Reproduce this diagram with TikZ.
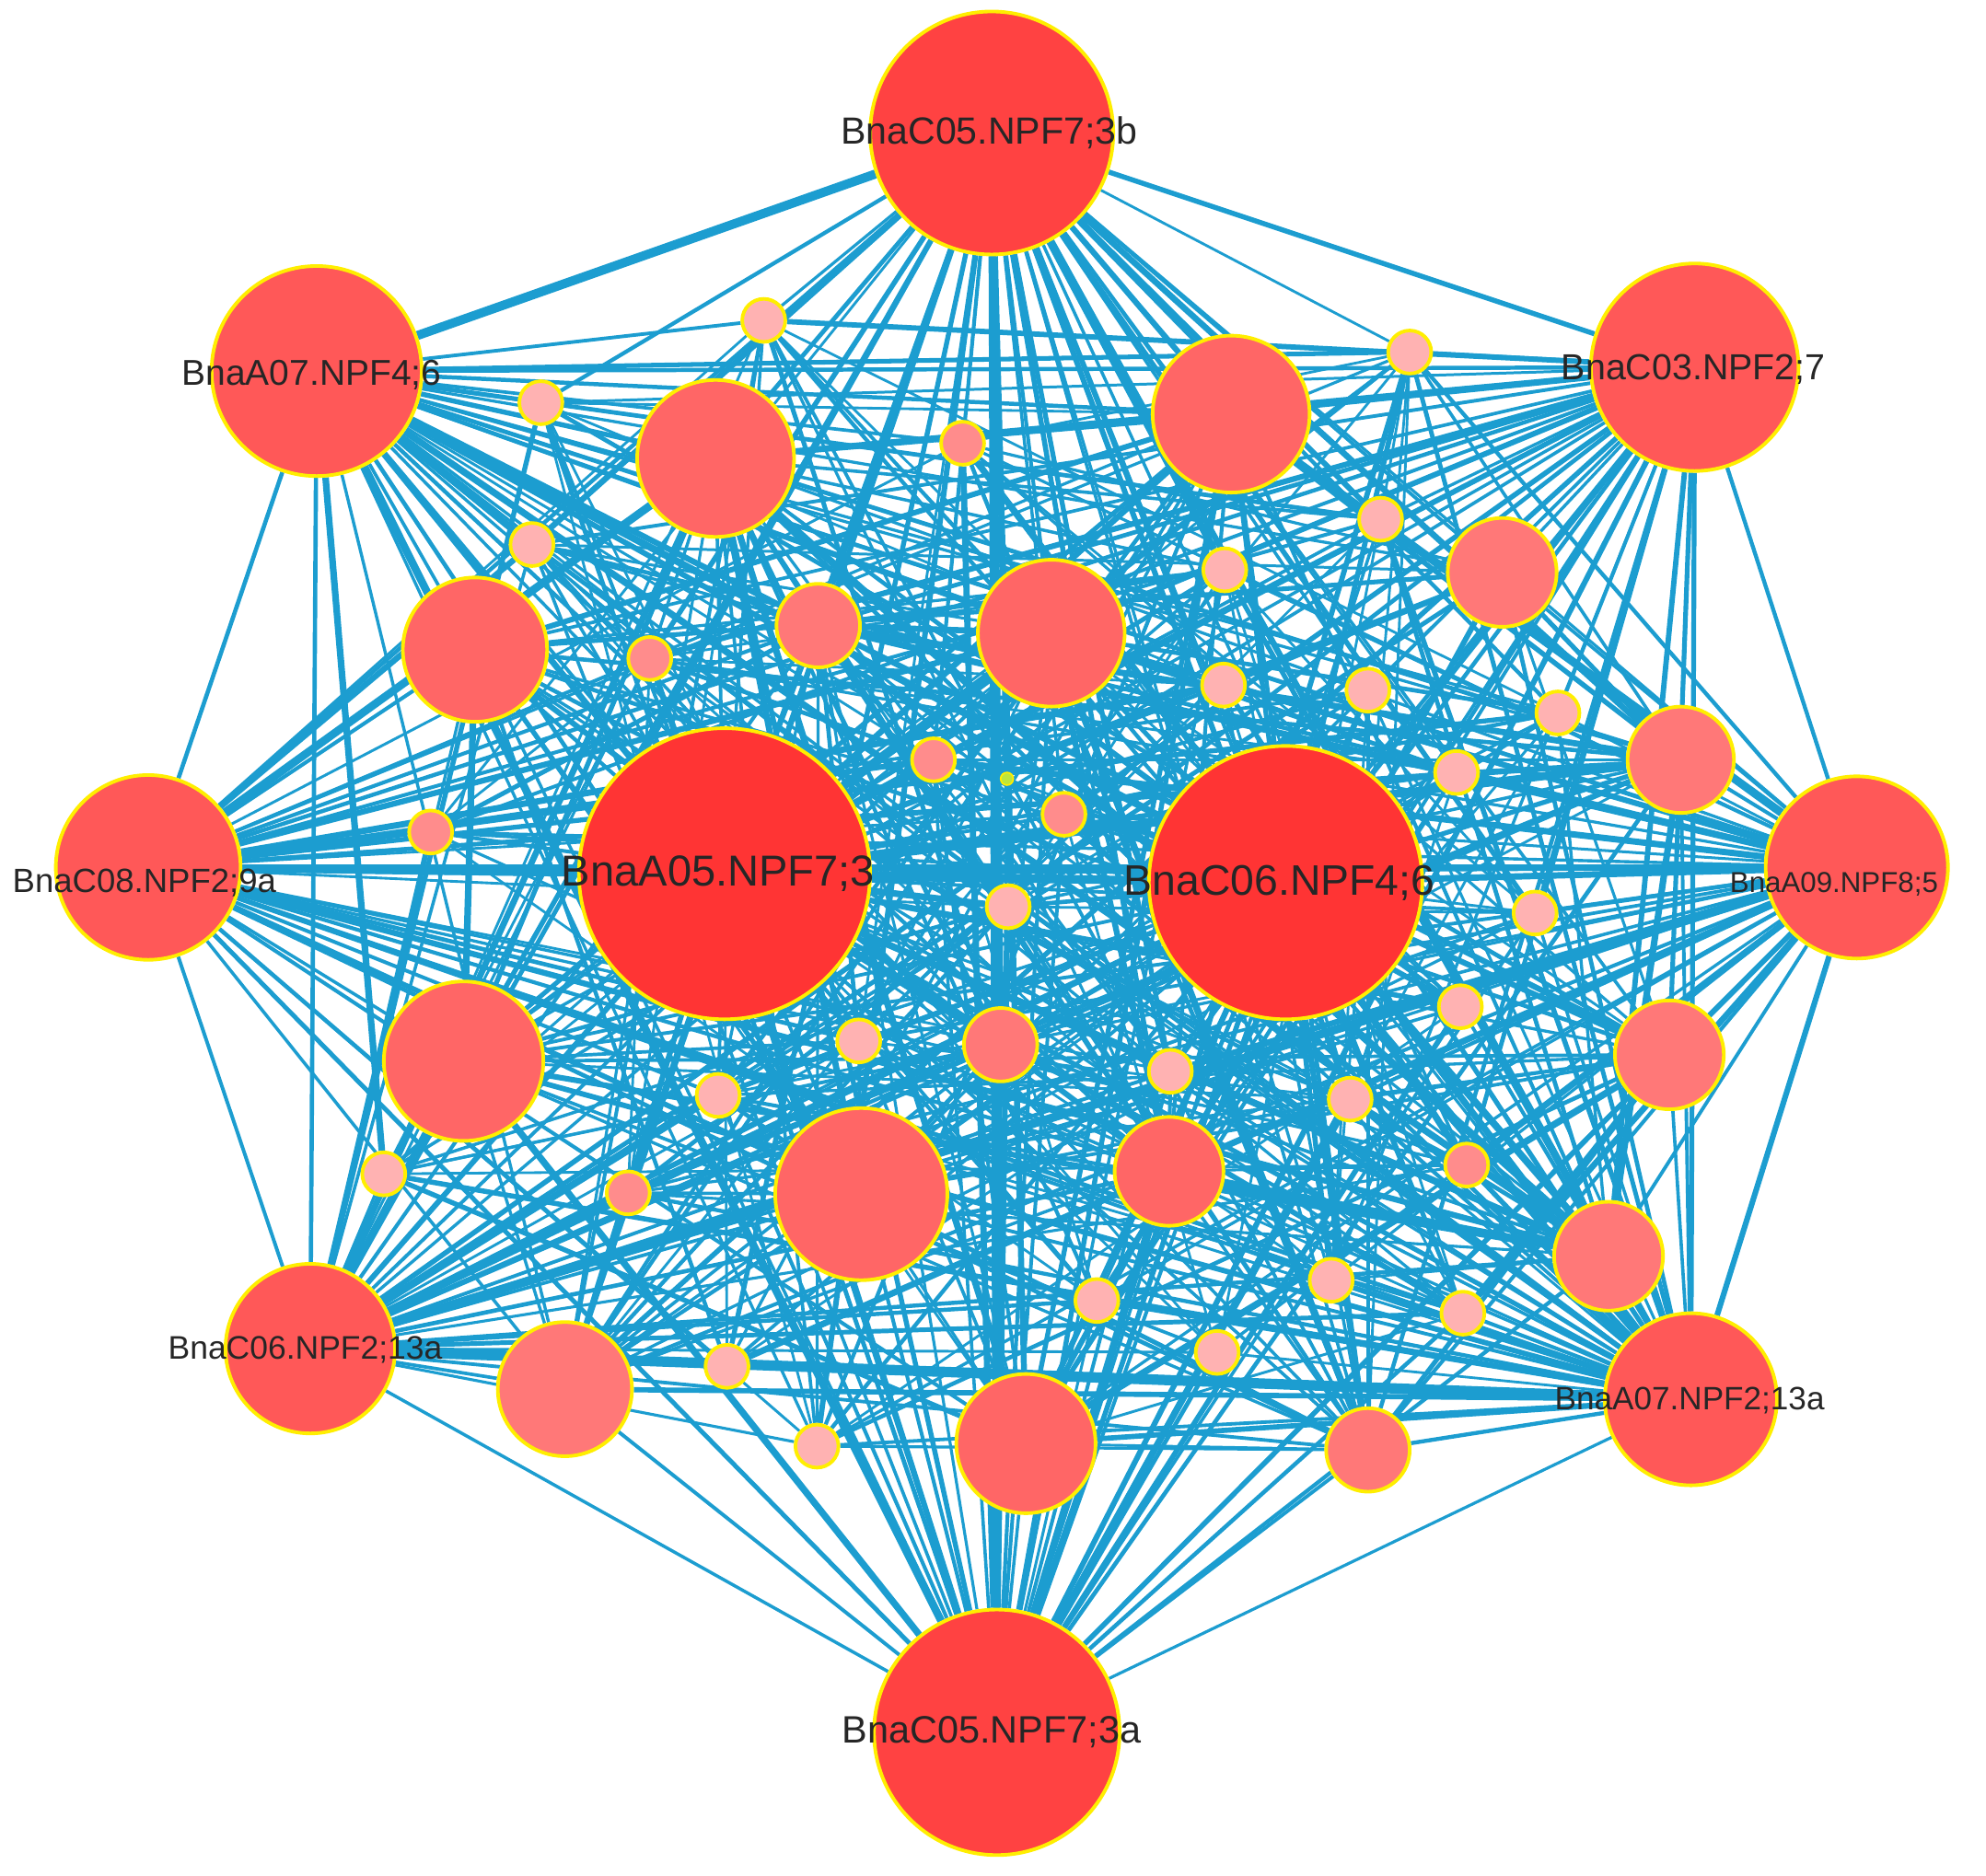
\documentclass[tikz,border=0pt]{standalone}
\usepackage{fontspec}
\setmainfont{Liberation Sans}
\usetikzlibrary{backgrounds}
\definecolor{edgec}{RGB}{28,157,208}
\definecolor{ybord}{RGB}{255,238,0}
\definecolor{cA}{RGB}{255,52,52}
\definecolor{cT}{RGB}{255,66,66}
\definecolor{cH}{RGB}{255,88,88}
\definecolor{cM}{RGB}{255,102,102}
\definecolor{cL}{RGB}{255,120,120}
\definecolor{cS}{RGB}{255,140,140}
\definecolor{cP}{RGB}{255,178,178}
\definecolor{cG}{RGB}{190,230,60}
\tikzset{
  nd/.style={circle, draw=ybord, line width=1.1pt, inner sep=0pt, minimum size=#1*0.027512cm},
  edge/.style={draw=edgec},
  lbl/.style={inner sep=0pt, text=black!85},
}
\begin{document}
\begin{tikzpicture}[x=0.013756cm, y=-0.013756cm]
\useasboundingbox (0,0) rectangle (1568,1481);
% hubs
\node[nd=96, fill=cT] (h1) at (783,105) {};
\node[nd=83, fill=cH] (h2) at (250,293) {};
\node[nd=82, fill=cH] (h3) at (1338,290) {};
\node[nd=73, fill=cH] (h4) at (117,685) {};
\node[nd=72, fill=cH] (h5) at (1466,685) {};
\node[nd=67, fill=cH] (h6) at (245,1065) {};
\node[nd=68, fill=cH] (h7) at (1335,1105) {};
\node[nd=97, fill=cT] (h8) at (787,1368) {};
\node[nd=115, fill=cA] (h9) at (572,690) {};
\node[nd=108, fill=cA] (h10) at (1015,697) {};
% medium nodes
\foreach \n/\x/\y/\r/\c in {
  1/565/362/62/cM, 2/972/327/62/cM, 3/375/513/57/cM, 4/830/500/58/cM,
  5/1186/452/43/cL, 6/646/494/33/cL, 7/1327/600/42/cL, 8/366/838/63/cM,
  9/1318/833/43/cL, 10/680/943/68/cM, 11/923/925/43/cM, 12/790/825/29/cL,
  13/1270/992/43/cL, 14/446/1097/53/cL, 15/810/1140/55/cM, 16/1080/1145/33/cL}
  \node[nd=\r, fill=\c] (m\n) at (\x,\y) {};
% small nodes
\foreach \n/\x/\y/\c in {
  1/603/253/cP, 2/1113/278/cP, 3/427/318/cP, 4/760/350/cS, 5/420/430/cP,
  6/1090/410/cP, 7/967/450/cP, 8/513/520/cS, 9/966/541/cP, 10/1080/545/cP,
  11/1230/563/cP, 12/737/600/cS, 13/1150/610/cP, 14/340/657/cS, 15/840/643/cS,
  16/796/716/cP, 17/1212/721/cP, 18/1153/795/cP, 19/678/822/cP, 20/567/865/cP,
  21/924/846/cP, 22/1066/868/cP, 23/303/927/cP, 24/496/942/cS, 25/1158/920/cS,
  26/866/1027/cP, 27/1051/1011/cP, 28/1155/1037/cP, 29/961/1068/cP, 30/574/1079/cP,
  31/645/1142/cP}
  \node[nd=17, fill=\c] (s\n) at (\x,\y) {};
\node[nd=5, fill=cG, line width=0.5pt] (t1) at (795,615) {};
% edges
\pgfmathsetseed{4242}
\begin{pgfonlayer}{background}
  % hub to hub
  \foreach \a in {1,...,10} {
    \foreach \b in {1,...,10} {
      \ifnum\a<\b
        \pgfmathsetmacro\w{0.9+1.2*rnd}
        \draw[edge, line width=\w pt] (h\a) -- (h\b);
      \fi
    }
  }
  \foreach \a/\b/\w in {h1/h2/2.8, h6/h7/3.2, h9/h10/2.6, h2/h10/2.2, h1/h8/2.2, h5/h6/2.6, h4/h10/2.2, h2/h8/2.4}
    \draw[edge, line width=\w pt] (\a) -- (\b);
  % hubs to other nodes
  \foreach \a in {1,...,10} {
    \foreach \b in {1,...,16} {
      \pgfmathsetmacro\p{rnd}
      \pgfmathsetmacro\w{0.9+2.0*rnd*rnd}
      \ifdim\p pt<0.88pt
        \draw[edge, line width=\w pt] (h\a) -- (m\b);
      \fi
    }
    \foreach \b in {1,...,31} {
      \pgfmathsetmacro\p{rnd}
      \pgfmathsetmacro\w{0.8+1.5*rnd*rnd}
      \ifdim\p pt<0.75pt
        \draw[edge, line width=\w pt] (h\a) -- (s\b);
      \fi
    }
  }
  % medium to medium
  \foreach \a in {1,...,16} {
    \foreach \b in {1,...,16} {
      \ifnum\a<\b
        \pgfmathsetmacro\p{rnd}
        \pgfmathsetmacro\w{0.8+1.6*rnd*rnd}
        \ifdim\p pt<0.5pt
          \draw[edge, line width=\w pt] (m\a) -- (m\b);
        \fi
      \fi
    }
  }
  % medium to small
  \foreach \a in {1,...,16} {
    \foreach \b in {1,...,31} {
      \pgfmathsetmacro\p{rnd}
      \pgfmathsetmacro\w{0.8+1.0*rnd*rnd}
      \ifdim\p pt<0.2pt
        \draw[edge, line width=\w pt] (m\a) -- (s\b);
      \fi
    }
  }
  % small to small
  \foreach \a in {1,...,31} {
    \foreach \b in {1,...,31} {
      \ifnum\a<\b
        \pgfmathsetmacro\p{rnd}
        \ifdim\p pt<0.09pt
          \draw[edge, line width=0.8pt] (s\a) -- (s\b);
        \fi
      \fi
    }
  }
  \draw[edge, line width=0.8pt] (t1) -- (h10);
  \draw[edge, line width=0.8pt] (t1) -- (h8);
\end{pgfonlayer}
% labels
\node[lbl, font=\fontsize{11.7}{12}\selectfont] (l1) at (781,105) {BnaC05.NPF7;3b};
\node[lbl, font=\fontsize{11.1}{12}\selectfont] (l2) at (246,296) {BnaA07.NPF4;6};
\node[lbl, font=\fontsize{11.2}{12}\selectfont] (l3) at (1337,292) {BnaC03.NPF2;7};
\node[lbl, font=\fontsize{10.4}{12}\selectfont] (l4) at (114,697) {BnaC08.NPF2;9a};
\node[lbl, font=\fontsize{8.9}{10}\selectfont] (l5) at (1448,698) {BnaA09.NPF8;5};
\node[lbl, font=\fontsize{10.1}{12}\selectfont] (l6) at (241,1066) {BnaC06.NPF2;13a};
\node[lbl, font=\fontsize{10}{12}\selectfont] (l7) at (1334,1106) {BnaA07.NPF2;13a};
\node[lbl, font=\fontsize{11.8}{12}\selectfont] (l8) at (783,1368) {BnaC05.NPF7;3a};
\node[lbl, font=\fontsize{13.4}{14}\selectfont] (l9) at (567,690) {BnaA05.NPF7;3};
\node[lbl, font=\fontsize{13.2}{14}\selectfont] (l10) at (1010,697) {BnaC06.NPF4;6};
\end{tikzpicture}
\end{document}
